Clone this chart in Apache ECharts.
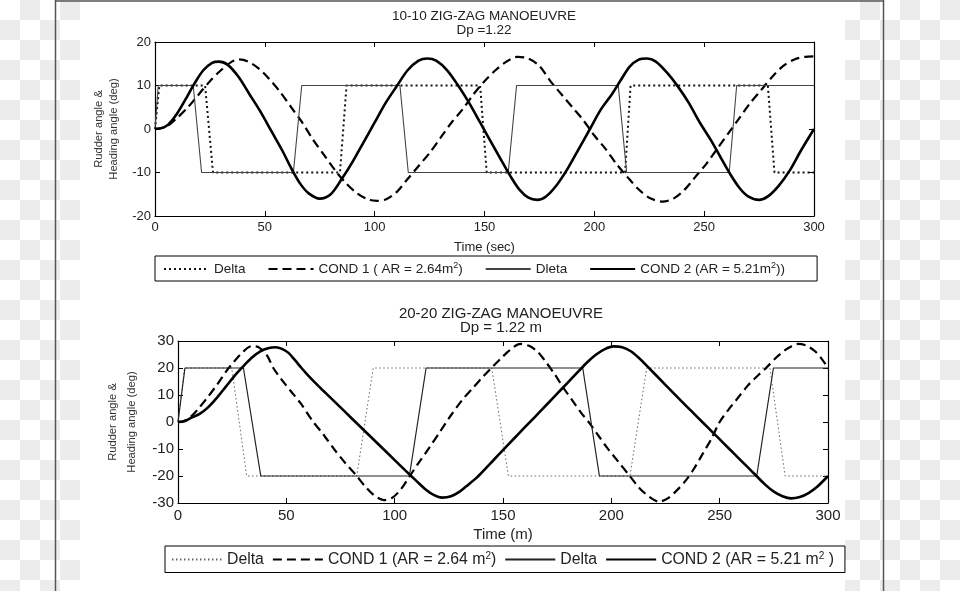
<!DOCTYPE html>
<html>
<head>
<meta charset="utf-8">
<script src="https://cdn.jsdelivr.net/npm/echarts@6/dist/echarts.min.js"></script>
<style>html,body{margin:0;padding:0;background:#fff}#c{width:960px;height:591px}</style>
</head>
<body>
<div id="c"></div>
<script>
// ---------------- DATA ----------------
// Top chart: 10-10 zig-zag, x = time (sec)
const top_delta1 = [[0,0],[2,10],[22.8,10],[26.4,-10],[84.2,-10],[87.2,10],[148,10],[151,-10],[214,-10],[216.5,10],[279,10],[282,-10],[300,-10]];
const top_cond1 = [[0,0],[5,0.5],[10,2.5],[15,5.0],[20,8.0],[25,11.0],[30,13.5],[35,15.5],[38,16.0],[42,15.6],[47,14.0],[52,11.5],[57,8.5],[62,5.0],[67,1.5],[72,-2.5],[77,-6.0],[82,-9.5],[87,-12.5],[92,-14.8],[97,-16.2],[101,-16.5],[105,-16.2],[110,-14.5],[115,-11.5],[120,-8.5],[125,-5.5],[130,-2.0],[135,1.5],[140,4.5],[145,8.0],[150,11.0],[155,13.5],[160,15.5],[165,16.6],[170,16.2],[175,14.5],[180,11.0],[185,8.0],[190,5.0],[195,2.0],[200,-1.5],[205,-4.5],[210,-8.0],[215,-11.0],[220,-13.8],[225,-15.8],[231,-16.7],[236,-16.0],[241,-14.0],[246,-11.0],[251,-8.0],[256,-4.5],[261,-1.0],[266,2.5],[271,6.0],[276,9.0],[281,12.0],[286,14.5],[291,16.0],[296,16.6],[300,16.7]];
const top_delta2 = [[0,0],[1.5,10],[17.4,10],[21.2,-10],[63,-10],[66.8,10],[111.5,10],[115.3,-10],[160.8,-10],[164.6,10],[210.9,10],[214.7,-10],[261.4,-10],[264.8,10],[300,10]];
const top_cond2 = [[0,0],[3,0.2],[6,1.0],[10,3.5],[15,7.8],[18,10.5],[22,13.5],[26,15.2],[29,15.5],[33,14.8],[38,12.0],[43,8.0],[48,4.0],[53,-0.5],[58,-5.0],[62,-9.0],[66,-12.5],[70,-14.8],[75,-16.0],[80,-15.0],[85,-11.5],[90,-7.5],[95,-3.0],[100,1.5],[105,6.0],[110,9.8],[115,13.5],[120,15.7],[124,16.2],[128,15.7],[133,13.5],[138,10.0],[143,6.0],[148,1.5],[153,-3.0],[158,-7.5],[162,-11.0],[166,-14.0],[170,-15.8],[174,-16.3],[178,-15.5],[183,-12.8],[188,-9.0],[193,-4.5],[198,0.0],[203,4.5],[208,8.0],[212,11.2],[216,14.3],[220,15.9],[224,16.2],[228,15.5],[233,13.0],[238,9.8],[243,6.0],[248,1.5],[253,-2.5],[258,-7.0],[262,-10.5],[266,-13.5],[270,-15.5],[275,-16.3],[279,-15.5],[284,-13.0],[289,-9.5],[294,-5.0],[300,0.0]];

// Bottom chart: 20-20 zig-zag, x = time (m)
const bot_delta1 = [[0,0],[3,20],[24.8,20],[31.7,-20],[82.5,-20],[90.1,20],[144.8,20],[152.5,-20],[208.6,-20],[216.3,20],[273.2,20],[280.2,-20],[300,-20]];
const bot_cond1 = [[0,0],[3,0.5],[6,2.0],[10,5.5],[14,9.5],[18,13.8],[22,18.5],[26,22.5],[30,26.0],[34,28.1],[37,27.8],[41,24.8],[44,20.0],[48,15.5],[52,11.5],[57,6.5],[62,0.5],[67,-4.5],[72,-10.0],[77,-15.0],[82,-19.5],[86,-23.5],[90,-26.8],[95,-28.9],[99,-28.0],[103,-24.8],[107,-20.0],[111,-15.2],[116,-9.5],[121,-3.5],[126,2.5],[131,8.0],[136,12.5],[141,17.0],[145,20.3],[149,23.5],[153,26.5],[158,28.9],[162,28.2],[166,26.0],[170,22.0],[174,17.5],[178,12.5],[182,8.0],[186,3.5],[190,-0.5],[194,-5.0],[198,-9.5],[203,-14.5],[208,-19.5],[213,-24.5],[218,-28.0],[222,-29.5],[226,-28.3],[230,-25.5],[234,-22.0],[238,-17.5],[242,-12.0],[246,-6.5],[250,0.0],[254,4.5],[258,8.5],[263,13.5],[268,17.5],[272,20.5],[276,23.8],[280,26.5],[283,28.0],[286,28.9],[290,28.3],[294,26.2],[297,23.5],[300,20.0]];
const bot_delta2 = [[0,0],[3.2,20],[30.2,20],[38.2,-20],[106.8,-20],[114.5,20],[186.8,20],[194.5,-20],[267.1,-20],[274.8,20],[300,20]];
const bot_cond2 = [[0,0],[3,0.3],[6,1.5],[10,3.0],[14,5.5],[18,9.0],[22,13.0],[26,17.0],[30,20.5],[34,23.8],[38,26.2],[42,27.4],[45,27.7],[48,27.1],[51,25.6],[54,22.9],[57,20.0],[60,17.3],[65,13.2],[70,9.3],[75,5.4],[80,1.5],[85,-2.4],[90,-6.3],[95,-10.2],[100,-14.1],[105,-18.0],[110,-21.8],[114,-24.8],[118,-27.0],[122,-28.0],[126,-27.5],[130,-25.8],[134,-23.2],[138,-20.5],[142,-17.2],[146,-13.8],[150,-10.4],[155,-6.2],[160,-2.0],[165,2.1],[170,6.3],[175,10.5],[180,14.7],[185,18.9],[189,22.2],[193,25.0],[197,27.0],[201,28.0],[205,27.7],[209,26.2],[213,23.5],[217,20.3],[222,16.2],[227,12.1],[232,8.0],[237,4.0],[242,0.0],[247,-4.0],[252,-8.0],[257,-12.0],[262,-16.0],[267,-20.0],[271,-23.2],[275,-25.8],[279,-27.5],[283,-28.3],[287,-27.8],[291,-26.3],[295,-24.0],[300,-20.0]];

// Axis ranges / ticks
const xRange = [0, 300, 50];
const topYRange = [-20, 20, 10];
const botYRange = [-30, 30, 10];

// Texts
const topTitle = ['10-10 ZIG-ZAG MANOEUVRE', 'Dp =1.22'];
const botTitle = ['20-20 ZIG-ZAG MANOEUVRE', 'Dp = 1.22 m'];
const topXName = 'Time (sec)';
const botXName = 'Time (m)';
const yName = 'Rudder angle &\nHeading angle (deg)';
const topLegend = {t_d1:'{a|Delta}', t_c1:'{a|COND 1 ( AR = 2.64m}{s|2}{a|)}', t_d2:'{a|Dleta}', t_c2:'{a|COND 2 (AR = 5.21m}{s|2}{a|))}'};
const botLegend = {b_d1:'{a|Delta}', b_c1:'{a|COND 1 (AR = 2.64 m}{s|2}{a|)}', b_d2:'{a|Delta}', b_c2:'{a|COND 2 (AR = 5.21 m}{s|2}{a| )}'};

// ---------------- CHART ----------------
const FONT = 'Liberation Sans, Arial, sans-serif';
const TXT = '#222';
const chart = echarts.init(document.getElementById('c'), null, {renderer:'canvas'});

function xAx(grid, pos, fs, name, gap) {
  return {
    gridIndex: grid, type: 'value', position: pos,
    min: xRange[0], max: xRange[1], interval: xRange[2],
    axisLine: {show: true, onZero: false, lineStyle: {color: '#000', width: 1.2}},
    axisTick: {show: true, inside: true, length: 5, lineStyle: {color: '#000'}},
    axisLabel: {show: pos === 'bottom', color: TXT, fontSize: fs, fontFamily: FONT, margin: 5},
    splitLine: {show: false},
    name: pos === 'bottom' ? name : '', nameLocation: 'middle', nameGap: gap,
    nameTextStyle: {color: TXT, fontSize: fs, fontFamily: FONT}
  };
}
function yAx(grid, pos, rng, fs, gap, lh) {
  return {
    gridIndex: grid, type: 'value', position: pos,
    min: rng[0], max: rng[1], interval: rng[2],
    axisLine: {show: true, onZero: false, lineStyle: {color: '#000', width: 1.2}},
    axisTick: {show: true, inside: true, length: 5, lineStyle: {color: '#000'}},
    axisLabel: {show: pos === 'left', color: TXT, fontSize: fs, fontFamily: FONT, margin: 4},
    splitLine: {show: false},
    name: pos === 'left' ? yName : '', nameLocation: 'middle', nameGap: gap,
    nameTextStyle: {color: '#333', fontSize: 11.2, fontFamily: FONT, lineHeight: lh}
  };
}
function ser(name, data, xi, yi, ls, smooth) {
  return {name: name, type: 'line', data: data, xAxisIndex: xi, yAxisIndex: yi,
    symbol: 'none', smooth: smooth ? 0.3 : false, lineStyle: ls, itemStyle: {color: ls.color},
    animation: false, silent: true, clip: true};
}

// decorative checkered background outside the frame
const bg = [];
for (let r = 0; r < 30; r++) {
  for (let c = 0; c < 48; c++) {
    if ((c + r) % 2 !== 1) continue;
    let x0 = c * 20, w = 20;
    if (c >= 4 && c < 42) continue;
    if (c === 42) { x0 = 845; w = 15; }
    bg.push({type: 'rect', silent: true, z: -10, shape: {x: x0, y: r * 20, width: w, height: 20}, style: {fill: '#ececec'}});
  }
}
bg.push({type: 'line', z: -5, silent: true, shape: {x1: 55.5, y1: 0, x2: 55.5, y2: 591}, style: {stroke: '#555', lineWidth: 1.5}});
bg.push({type: 'line', z: -5, silent: true, shape: {x1: 883.5, y1: 0, x2: 883.5, y2: 591}, style: {stroke: '#555', lineWidth: 1.5}});
bg.push({type: 'line', z: -5, silent: true, shape: {x1: 55, y1: 1, x2: 884, y2: 1}, style: {stroke: '#555', lineWidth: 1.5}});
function ttl(t, x, y, fs) {
  return {type: 'text', silent: true, x: x, y: y, style: {text: t, fill: TXT, font: fs + 'px ' + FONT, textAlign: 'center', textVerticalAlign: 'middle'}};
}
bg.push(ttl(topTitle[0], 484, 16, 13.5));
bg.push(ttl(topTitle[1], 484, 30, 13.5));
bg.push(ttl(botTitle[0], 501, 314, 15));
bg.push(ttl(botTitle[1], 501, 328, 15));

const hideSym = {opacity: 0, color: 'transparent', borderColor: 'transparent', borderWidth: 0};

const option = {
  backgroundColor: '#fff',
  animation: false,
  graphic: bg,
  grid: [
    {left: 155, top: 42, width: 659, height: 174, containLabel: false},
    {left: 178, top: 341, width: 650, height: 162, containLabel: false}
  ],
  xAxis: [xAx(0, 'bottom', 13, topXName, 25), xAx(0, 'top', 13, '', 0), xAx(1, 'bottom', 15, botXName, 24), xAx(1, 'top', 15, '', 0)],
  yAxis: [yAx(0, 'left', topYRange, 13, 26, 15), yAx(0, 'right', topYRange, 13, 0, 15), yAx(1, 'left', botYRange, 15, 37, 19), yAx(1, 'right', botYRange, 15, 0, 19)],
  legend: [
    {
      data: ['t_d1', 't_c1', 't_d2', 't_c2'], left: 155, top: 256, orient: 'horizontal',
      padding: [5, 32, 5, 8], borderColor: '#000', borderWidth: 1, itemWidth: 45, itemHeight: 14, itemGap: 22,
      itemStyle: hideSym,
      formatter: function (n) { return topLegend[n]; },
      selectedMode: false,
      textStyle: {color: TXT, fontFamily: FONT, rich: {a: {fontSize: 13.5, fontFamily: FONT, color: TXT, lineHeight: 16}, s: {fontSize: 9, fontFamily: FONT, color: TXT, verticalAlign: 'top', lineHeight: 9}}}
    },
    {
      data: ['b_d1', 'b_c1', 'b_d2', 'b_c2'], left: 165, top: 546, orient: 'horizontal',
      padding: [5, 11, 5, 6], borderColor: '#000', borderWidth: 1, itemWidth: 50, itemHeight: 15, itemGap: 8,
      itemStyle: hideSym,
      formatter: function (n) { return botLegend[n]; },
      selectedMode: false,
      textStyle: {color: TXT, fontFamily: FONT, rich: {a: {fontSize: 15.8, fontFamily: FONT, color: TXT, lineHeight: 17}, s: {fontSize: 10, fontFamily: FONT, color: TXT, verticalAlign: 'top', lineHeight: 10}}}
    }
  ],
  series: [
    ser('t_d1', top_delta1, 0, 0, {color: '#111', width: 2, type: [2, 3]}, false),
    ser('t_c1', top_cond1, 0, 0, {color: '#000', width: 2.2, type: [9, 5]}, true),
    ser('t_d2', top_delta2, 0, 0, {color: '#444', width: 1.1, type: 'solid'}, false),
    ser('t_c2', top_cond2, 0, 0, {color: '#000', width: 2.6, type: 'solid'}, true),
    ser('b_d1', bot_delta1, 2, 2, {color: '#666', width: 1, type: [1.5, 2.5]}, false),
    ser('b_c1', bot_cond1, 2, 2, {color: '#000', width: 2.2, type: [9, 5]}, true),
    ser('b_d2', bot_delta2, 2, 2, {color: '#222', width: 1.2, type: 'solid'}, false),
    ser('b_c2', bot_cond2, 2, 2, {color: '#000', width: 2.6, type: 'solid'}, true)
  ]
};
chart.setOption(option);
</script>
</body>
</html>
